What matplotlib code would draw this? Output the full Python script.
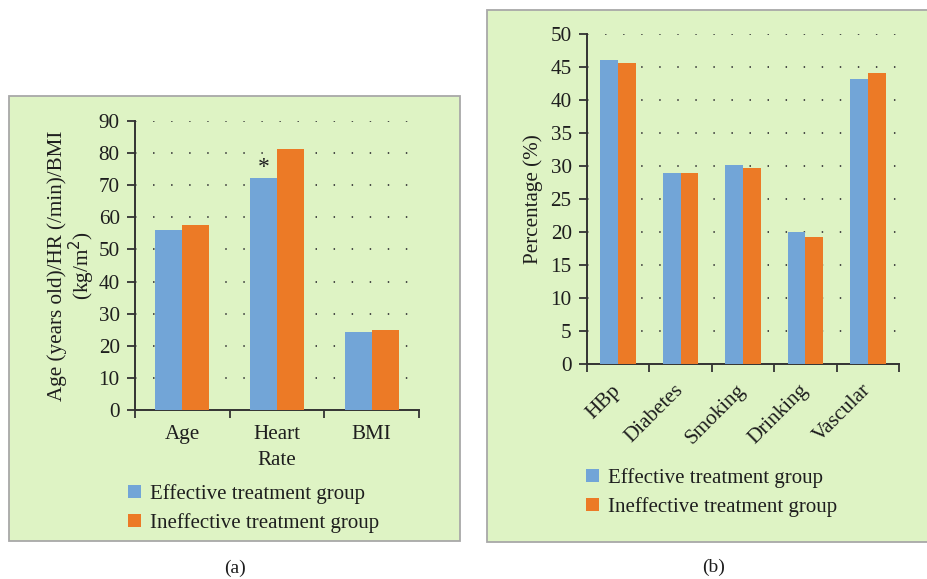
import matplotlib
matplotlib.use('Agg')
import matplotlib.pyplot as plt
from matplotlib.patches import Rectangle
import numpy as np

# ---- data ----
cat_a = ['Age', 'Heart\nRate', 'BMI']
eff_a = [56.1, 72.2, 24.3]
ineff_a = [57.6, 81.3, 24.9]
yticks_a = [0, 10, 20, 30, 40, 50, 60, 70, 80, 90]

cat_b = ['HBp', 'Diabetes', 'Smoking', 'Drinking', 'Vascular']
eff_b = [46.1, 29.0, 30.2, 20.0, 43.2]
ineff_b = [45.6, 29.0, 29.7, 19.3, 44.1]
yticks_b = [0, 5, 10, 15, 20, 25, 30, 35, 40, 45, 50]

series = ['Effective treatment group', 'Ineffective treatment group']

# ---- style ----
BLUE = '#72a5d7'
ORANGE = '#ec7a26'
BG = '#def3c4'
EDGE = '#a8a8a8'
SPINE = '#333333'
TXT = '#1e1e1e'
FONT = 'Liberation Serif'
plt.rcParams['font.family'] = [FONT, 'DejaVu Serif']
plt.rcParams['text.color'] = TXT

W, H = 928, 579
fig = plt.figure(figsize=(W / 100, H / 100), dpi=100)


def rect(x0, y0, x1, y1):
    return [x0 / W, 1 - y1 / H, (x1 - x0) / W, (y1 - y0) / H]


def box(x0, y0, x1, y1):
    fig.add_artist(Rectangle((x0 / W, 1 - y1 / H), (x1 - x0) / W, (y1 - y0) / H,
                             transform=fig.transFigure, facecolor=BG,
                             edgecolor=EDGE, lw=1.3, zorder=0))


box(9.5, 96, 460, 541)
box(487.5, 10, 931, 541.5)

bw = 1 / 3.5  # bar width with 150% gap
FS = 15.2


def panel(r, cats, e, ie, yticks, ylabel, rot, xpad, ylab_x):
    ax = fig.add_axes(rect(*r))
    ax.set_facecolor('none')
    x = np.arange(len(cats))
    b1 = ax.bar(x - bw / 2, e, bw, color=BLUE, zorder=3, label=series[0])
    b2 = ax.bar(x + bw / 2, ie, bw, color=ORANGE, zorder=3, label=series[1])
    ax.set_xlim(-0.5, len(cats) - 0.5)
    ax.set_ylim(yticks[0], yticks[-1])
    ax.set_yticks(yticks)
    ax.set_yticklabels([str(t) for t in yticks], fontsize=FS, color=TXT)
    for t in yticks[1:]:
        ax.axhline(t, color='#3c3c3c', lw=1.3, ls=(0, (0.8, 9.2)), zorder=1)
    ax.set_xticks(np.arange(len(cats) + 1) - 0.5)
    ax.set_xticklabels([])
    ax.set_xticks(x, minor=True)
    if rot:
        ax.set_xticklabels(cats, minor=True, fontsize=FS, rotation=45,
                           ha='right', va='center', rotation_mode='anchor',
                           color=TXT)
    else:
        ax.set_xticklabels(cats, minor=True, fontsize=FS, color=TXT,
                           linespacing=1.5)
    ax.tick_params(axis='x', which='minor', length=0, pad=xpad)
    ax.tick_params(axis='x', which='major', length=6, width=1.3,
                   direction='out', color=SPINE)
    ax.tick_params(axis='y', length=6, width=1.3, color=SPINE, pad=5)
    for s in ['top', 'right']:
        ax.spines[s].set_visible(False)
    for s in ['left', 'bottom']:
        ax.spines[s].set_color(SPINE)
        ax.spines[s].set_linewidth(1.4)
    ax.set_ylabel(ylabel, fontsize=FS, color=TXT, linespacing=1.0)
    ax.yaxis.set_label_coords((ylab_x - r[0]) / (r[2] - r[0]), 0.5)
    return ax, b1, b2


axA, a1, a2 = panel((135, 121, 419, 410), cat_a, eff_a, ineff_a, yticks_a,
                    'Age (years old)/HR (/min)/BMI\n(kg/m$^2$)', False, 11, 97)
axA.annotate('*', xy=(1 - bw / 2, eff_a[1]), xytext=(0, 4),
             textcoords='offset points', ha='center', va='baseline',
             fontsize=17, color=TXT)

axB, c1, c2 = panel((587, 34.3, 899, 364), cat_b, eff_b, ineff_b, yticks_b,
                    'Percentage (%)', True, 17, 543)

legkw = dict(frameon=False, fontsize=15.0, handlelength=0.6, handleheight=0.6,
             handletextpad=0.45, labelspacing=0.45, borderpad=0,
             borderaxespad=0, loc='center left')
fig.legend([a1, a2], series, bbox_to_anchor=(128 / W, 1 - 508.5 / H), **legkw)
fig.legend([c1, c2], series, bbox_to_anchor=(586 / W, 1 - 492.5 / H), **legkw)

fig.text(235 / W, 1 - 568 / H, '(a)', ha='center', va='center', fontsize=14,
         color=TXT)
fig.text(714 / W, 1 - 567 / H, '(b)', ha='center', va='center', fontsize=14,
         color=TXT)

fig.savefig('out.png', dpi=100, facecolor='white')
